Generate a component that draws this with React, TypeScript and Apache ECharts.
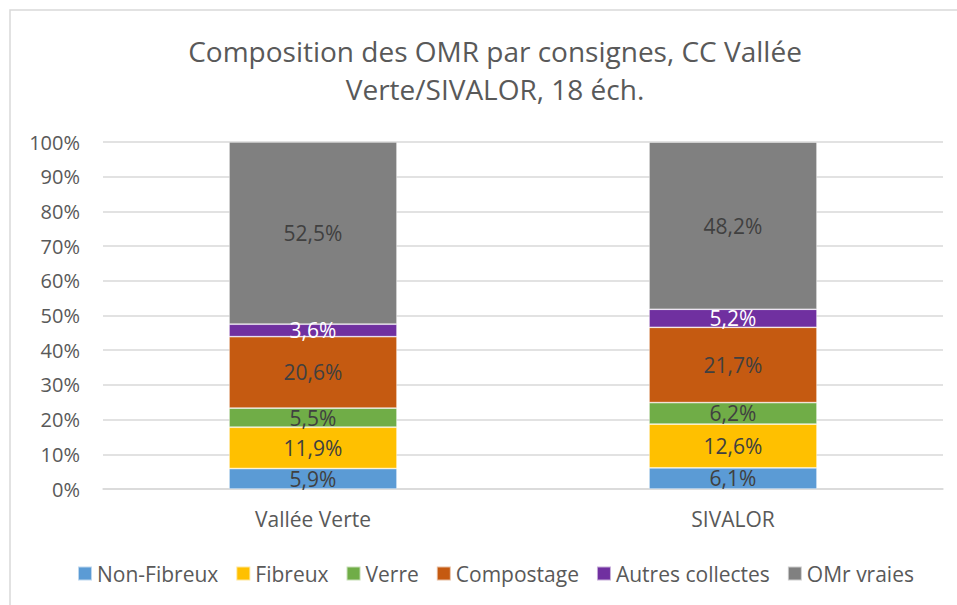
import React, { useEffect, useRef } from "react";
import * as echarts from "echarts";

const categories = ["Vallée Verte", "SIVALOR"];
const seriesNames = ["Non-Fibreux", "Fibreux", "Verre", "Compostage", "Autres collectes", "OMr vraies"];
const nonFibreux = [5.9, 6.1];
const fibreux = [11.9, 12.6];
const verre = [5.5, 6.2];
const compostage = [20.6, 21.7];
const autres = [3.6, 5.2];
const omrVraies = [52.5, 48.2];
const yTicks = [0, 10, 20, 30, 40, 50, 60, 70, 80, 90, 100];

const colors = ["#5B9BD5", "#FFC000", "#70AD47", "#C55A11", "#7030A0", "#808080"];
const labelColors = ["#404040", "#404040", "#404040", "#404040", "#FFFFFF", "#404040"];
const FONT = "'Open Sans', 'Noto Sans', sans-serif";

export default function App() {
  const ref = useRef<HTMLDivElement>(null);
  useEffect(() => {
    if (!ref.current) return;
    const chart = echarts.init(ref.current, undefined, { renderer: "svg" });
    const data = [nonFibreux, fibreux, verre, compostage, autres, omrVraies];
    chart.setOption({
      animation: false,
      textStyle: { fontFamily: FONT },
      title: {
        text: "Composition des OMR par consignes, CC Vallée\nVerte/SIVALOR, 18 éch.",
        left: 490,
        top: 27,
        textAlign: "center",
        textStyle: { fontFamily: FONT, fontSize: 28, fontWeight: "normal", color: "#595959", lineHeight: 38 },
      },
      graphic: [
        {
          type: "rect",
          shape: { x: 10, y: 10, width: 960, height: 620 },
          style: { fill: "none", stroke: "#D9D9D9", lineWidth: 1.5 },
          silent: true,
        },
      ],
      legend: {
        data: seriesNames,
        left: 77,
        top: 563,
        padding: 0,
        itemWidth: 14,
        itemHeight: 14,
        itemGap: 17,
        icon: "rect",
        textStyle: { fontFamily: FONT, fontSize: 21, color: "#595959" },
      },
      grid: { left: 103, right: 957 - 943, top: 142, bottom: 605 - 489, containLabel: false },
      xAxis: {
        type: "category",
        data: categories,
        axisLine: { show: true, lineStyle: { color: "#D9D9D9", width: 1.5 } },
        axisTick: { show: false },
        axisLabel: { fontFamily: FONT, fontSize: 21, color: "#595959", margin: 19 },
      },
      yAxis: {
        type: "value",
        min: 0,
        max: 100,
        interval: 10,
        axisLine: { show: false },
        axisTick: { show: false },
        splitLine: { lineStyle: { color: "#D9D9D9", width: 1.5 } },
        axisLabel: {
          fontFamily: FONT,
          fontSize: 20,
          color: "#595959",
          margin: 23,
          formatter: (v: number) => (yTicks.includes(v) ? `${v}%` : ""),
        },
      },
      series: seriesNames.map((name, i) => ({
        name,
        type: "bar",
        stack: "total",
        barWidth: "40%",
        data: data[i],
        itemStyle: { color: colors[i], borderColor: "rgba(255,255,255,0.6)", borderWidth: 0.75 },
        label: {
          show: true,
          position: "inside",
          fontFamily: FONT,
          fontSize: 21,
          color: labelColors[i],
          formatter: (p: any) => `${String(p.value.toFixed(1)).replace(".", ",")}%`,
        },
      })),
    });
    return () => chart.dispose();
  }, []);
  return <div ref={ref} style={{ position: "absolute", left: 0, top: 0, width: 957, height: 605 }} />;
}
